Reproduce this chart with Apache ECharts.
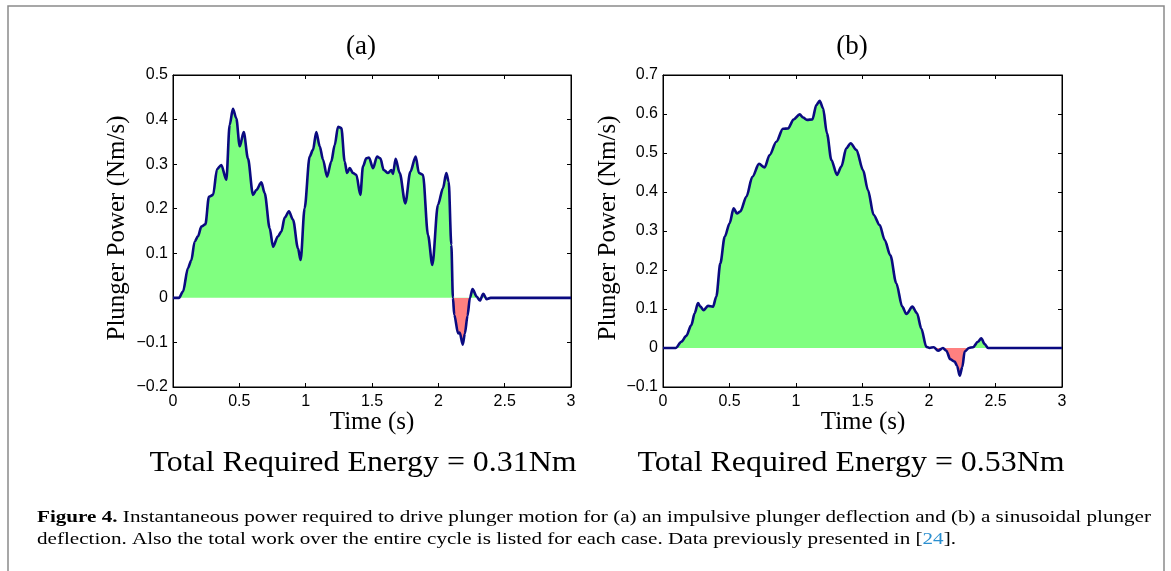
<!DOCTYPE html>
<html><head><meta charset="utf-8">
<script src="https://cdn.jsdelivr.net/npm/echarts@6/dist/echarts.min.js"></script>
<style>html,body{margin:0;padding:0;background:#fff}#c{width:1171px;height:571px}</style>
</head><body><div id="c"></div>
<script>
// ---- data ----
const timeA = [0,0.045,0.075,0.113,0.138,0.163,0.188,0.214,0.244,0.271,0.302,0.332,0.364,0.402,0.427,0.452,0.477,0.503,0.533,0.565,0.603,0.628,0.666,0.691,0.729,0.754,0.791,0.817,0.842,0.874,0.905,0.942,0.962,0.992,1.030,1.055,1.080,1.106,1.131,1.161,1.193,1.219,1.244,1.269,1.294,1.312,1.332,1.357,1.382,1.412,1.432,1.457,1.477,1.508,1.538,1.563,1.588,1.621,1.646,1.658,1.678,1.709,1.751,1.789,1.829,1.854,1.884,1.922,1.955,1.997,2.035,2.060,2.078,2.098,2.110,2.120,2.149,2.161,2.184,2.200,2.220,2.238,2.258,2.289,2.313,2.339,2.364,2.394,2.414,3.000];
const powerA = [0,0,0.014,0.067,0.084,0.126,0.138,0.160,0.165,0.227,0.231,0.289,0.298,0.265,0.388,0.424,0.403,0.340,0.372,0.313,0.231,0.242,0.259,0.235,0.156,0.115,0.138,0.149,0.180,0.194,0.175,0.111,0.085,0.201,0.317,0.332,0.372,0.340,0.310,0.272,0.306,0.343,0.384,0.381,0.306,0.280,0.291,0.280,0.276,0.231,0.295,0.313,0.315,0.291,0.317,0.313,0.287,0.280,0.287,0.278,0.312,0.280,0.212,0.283,0.317,0.280,0.276,0.141,0.074,0.209,0.246,0.280,0.261,0.119,0.000,-0.038,-0.080,-0.078,-0.105,-0.080,-0.040,0.000,0.020,0.003,-0.006,0.009,-0.003,0,0,0];
const timeB = [0,0.095,0.138,0.175,0.213,0.238,0.263,0.281,0.306,0.338,0.376,0.401,0.431,0.464,0.501,0.531,0.556,0.581,0.627,0.672,0.722,0.764,0.802,0.852,0.902,0.940,0.982,1.028,1.053,1.083,1.123,1.153,1.178,1.203,1.233,1.266,1.308,1.341,1.378,1.411,1.454,1.504,1.541,1.584,1.629,1.667,1.709,1.754,1.799,1.830,1.875,1.910,1.942,1.980,2.005,2.035,2.068,2.105,2.130,2.160,2.193,2.211,2.231,2.251,2.268,2.301,2.331,2.368,2.393,2.419,2.444,3.000];
const powerB = [0,0,0.016,0.031,0.059,0.089,0.115,0.106,0.097,0.108,0.106,0.132,0.217,0.285,0.320,0.358,0.345,0.350,0.388,0.439,0.472,0.463,0.495,0.529,0.562,0.563,0.586,0.599,0.591,0.585,0.586,0.623,0.634,0.615,0.550,0.482,0.444,0.465,0.512,0.525,0.508,0.456,0.405,0.341,0.315,0.277,0.238,0.166,0.106,0.087,0.106,0.089,0.050,0.003,0,0.002,-0.007,0,-0.007,-0.029,-0.035,-0.046,-0.071,-0.048,-0.009,0,0.002,0.016,0.025,0.010,0,0];
const xRange = [0, 3], xStep = 0.5;
const yRangeA = [-0.2, 0.5], yRangeB = [-0.1, 0.7], yStep = 0.1;
const panelTitles = ['(a)', '(b)'];
const energyLabels = ['Total Required Energy = 0.31Nm', 'Total Required Energy = 0.53Nm'];
const xName = 'Time (s)', yName = 'Plunger Power (Nm/s)';
const capBold = 'Figure 4.';
const capRest1 = ' Instantaneous power required to drive plunger motion for (a) an impulsive plunger deflection and (b) a sinusoidal plunger';
const capRest2a = 'deflection. Also the total work over the entire cycle is listed for each case. Data previously presented in [';
const capRef = '24', capRest2b = '].';

// ---- build ----
const serif = '"Liberation Serif","Times New Roman",serif';
const sans = '"Liberation Sans",Arial,sans-serif';
const POS = '#80FF80', NEG = '#FF8080', LINE = '#0a0a80';
const pairs = (t, v) => t.map((x, i) => [x, v[i]]);
const fmt = v => String(+v.toFixed(2)).replace('-', '\u2212');
const grids = [
  {left:173, top:75, width:398, height:312},
  {left:663, top:75, width:399, height:312}
];
const yRanges = [yRangeA, yRangeB];
const xAxes = [], yAxes = [];
grids.forEach((g, gi) => {
  ['bottom','top'].forEach((pos, k) => xAxes.push({
    gridIndex: gi, type:'value', position: pos, min: xRange[0], max: xRange[1], interval: xStep,
    axisLine:{show:true, onZero:false, lineStyle:{color:'#000', width:1}},
    axisTick:{show:true, inside:true, length:4, lineStyle:{color:'#000'}},
    axisLabel:{show:k===0, color:'#000', fontFamily:sans, fontSize:16, margin:7, formatter: fmt},
    splitLine:{show:false}
  }));
  ['left','right'].forEach((pos, k) => yAxes.push({
    gridIndex: gi, type:'value', position: pos, min: yRanges[gi][0], max: yRanges[gi][1], interval: yStep,
    axisLine:{show:true, onZero:false, lineStyle:{color:'#000', width:1}},
    axisTick:{show:true, inside:true, length:4, lineStyle:{color:'#000'}},
    axisLabel:{show:k===0, color:'#000', fontFamily:sans, fontSize:16, margin:5, formatter: fmt},
    splitLine:{show:false}
  }));
});
const datasets = [[timeA, powerA], [timeB, powerB]];
const series = [];
datasets.forEach(([t, v], gi) => {
  const d = pairs(t, v);
  const hi = Math.max(...v), lo = Math.min(...v);
  const f = hi / (hi - lo);
  const fill = {type:'linear', x:0, y:0, x2:0, y2:1, colorStops:[
    {offset:0, color:POS}, {offset:f, color:POS}, {offset:f, color:NEG}, {offset:1, color:NEG}]};
  series.push({type:'line', xAxisIndex: gi*2, yAxisIndex: gi*2, data: d, showSymbol:false, symbol:'none',
    smooth:0.3, smoothMonotone:'x', lineStyle:{width:0, opacity:0}, areaStyle:{opacity:1, color:fill}, silent:true, z:1});
  series.push({type:'line', xAxisIndex: gi*2, yAxisIndex: gi*2, data: d, showSymbol:false, symbol:'none',
    smooth:0.3, smoothMonotone:'x', lineStyle:{width:2.6, color:LINE}, itemStyle:{color:LINE}, z:3});
});

const ctx = document.createElement('canvas').getContext('2d');
function measure(font, txt){ ctx.font = font; return ctx.measureText(txt).width; }
const capFs = 17;
const w1 = measure('bold '+capFs+'px '+serif, capBold) + measure(capFs+'px '+serif, capRest1);
const capScale = 1114 / w1;
const enFs = 29;
const enScale = 427 / measure(enFs+'px '+serif, energyLabels[0]);

const graphic = [
  {type:'rect', shape:{x:8, y:6, width:1156, height:620}, style:{fill:'none', stroke:'#8a8a8a', lineWidth:1.5}, silent:true}
];
const titleX = [361, 852], centerX = [372, 863], energyX = [363, 851], yNameX = [117, 608];
[0,1].forEach(i => {
  graphic.push({type:'text', x:titleX[i], y:47, style:{text:panelTitles[i], font:'27px '+serif, fill:'#000', textAlign:'center', textVerticalAlign:'middle'}});
  graphic.push({type:'text', x:centerX[i], y:422, style:{text:xName, font:'25px '+serif, fill:'#000', textAlign:'center', textVerticalAlign:'middle'}});
  graphic.push({type:'text', x:yNameX[i], y:228, rotation:Math.PI/2, style:{text:yName, font:'25px '+serif, fill:'#000', textAlign:'center', textVerticalAlign:'middle'}});
  graphic.push({type:'text', x:energyX[i], y:463, scaleX:enScale, style:{text:energyLabels[i], font:enFs+'px '+serif, fill:'#000', textAlign:'center', textVerticalAlign:'middle'}});
});
const rich = {
  b:{fontWeight:'bold', fontSize:capFs, fontFamily:serif, fill:'#000'},
  n:{fontSize:capFs, fontFamily:serif, fill:'#000'},
  r:{fontSize:capFs, fontFamily:serif, fill:'#2a8fd0'}
};
graphic.push({type:'text', x:37, y:518, scaleX:capScale, style:{text:'{b|'+capBold+'}{n|'+capRest1+'}', rich:rich, font:capFs+'px '+serif, textVerticalAlign:'middle'}});
graphic.push({type:'text', x:37, y:540, scaleX:capScale, style:{text:'{n|'+capRest2a+'}{r|'+capRef+'}{n|'+capRest2b+'}', rich:rich, font:capFs+'px '+serif, textVerticalAlign:'middle'}});

const chart = echarts.init(document.getElementById('c'), null, {renderer:'canvas'});
chart.setOption({
  animation:false,
  backgroundColor:'#fff',
  grid: grids.map(g => Object.assign({show:true, borderColor:'#000', borderWidth:1, backgroundColor:'rgba(0,0,0,0)'}, g)),
  xAxis: xAxes, yAxis: yAxes,
  series: series,
  graphic: graphic
});
</script></body></html>
